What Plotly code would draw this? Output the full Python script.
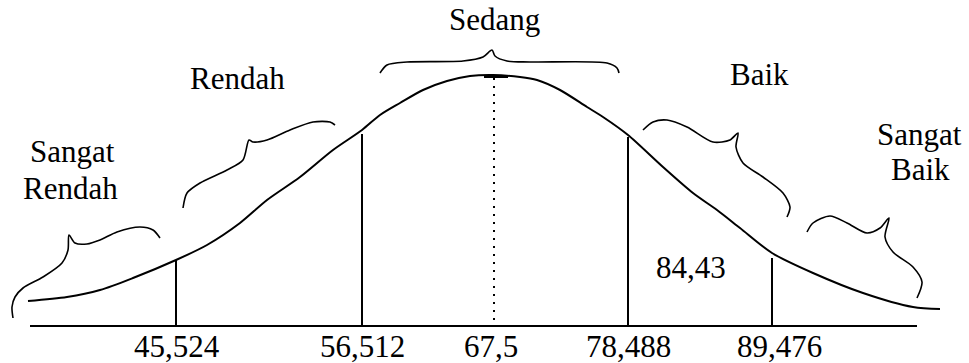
import plotly.graph_objects as go

# ---- data (drawing coordinates: x right, y down) ----
curve_x = [28, 67, 100, 133, 176, 207, 240, 267, 300, 333, 362, 380, 400, 423, 447, 470,
           493, 520, 537, 560, 587, 603, 628, 663, 693, 717, 740, 772, 813, 863, 913, 940]
curve_y = [301, 297, 290, 278, 260, 245, 223, 200, 177, 150, 130, 115, 103, 90, 81, 76,
           75, 77, 80, 90, 107, 117, 135, 167, 193, 210, 228, 253, 273, 293, 307, 309]

cutoff_labels = ["45,524", "56,512", "67,5", "78,488", "89,476"]
cutoff_x = [176, 362, 494, 628, 772]
cutoff_top = [260, 134, 78, 137, 258]
label_x = [177, 362, 491, 628, 779]

baseline_y = 326
axis_x = [30, 917]

mean_label = "67,5"
mid_value_label = "84,43"

categories = ["Sangat\nRendah", "Rendah", "Sedang", "Baik", "Sangat\nBaik"]

# hand-drawn braces (drawing coordinates)
brace_sr_x = [13, 12, 15, 23, 43, 62, 68, 69, 75, 87, 100, 117, 140, 153, 160]
brace_sr_y = [318, 307, 297, 288, 277, 263, 250, 235, 243, 244, 240, 232, 227, 230, 238]
brace_r_x = [183, 187, 200, 227, 243, 249, 253, 267, 290, 313, 330, 335]
brace_r_y = [208, 193, 183, 170, 160, 140, 142, 140, 130, 122, 122, 125]
brace_s_x = [380, 387, 407, 463, 483, 492, 495, 507, 530, 607, 617, 619]
brace_s_y = [73, 65, 62, 61, 57, 50, 56, 61, 62, 63, 68, 73]
brace_b_x = [643, 653, 667, 687, 713, 730, 738, 736, 743, 763, 783, 790, 787]
brace_b_y = [130, 122, 120, 127, 142, 140, 133, 147, 163, 177, 193, 207, 217]
brace_sb_x = [807, 813, 830, 847, 867, 880, 889, 885, 893, 913, 922, 917]
brace_sb_y = [232, 223, 216, 223, 233, 228, 218, 237, 252, 267, 282, 298]

# ---- figure ----
fig = go.Figure()
black = "black"

fig.add_trace(go.Scatter(x=curve_x, y=curve_y, mode="lines",
                         line=dict(color=black, width=2, shape="spline", smoothing=0.8),
                         hoverinfo="skip"))

# axis baseline
fig.add_trace(go.Scatter(x=axis_x, y=[baseline_y, baseline_y], mode="lines",
                         line=dict(color=black, width=2), hoverinfo="skip"))

# cutoff verticals
for i, (cx, ct) in enumerate(zip(cutoff_x, cutoff_top)):
    if cutoff_labels[i] == mean_label:
        fig.add_trace(go.Scatter(x=[cx, cx], y=[ct, baseline_y], mode="lines",
                                 line=dict(color=black, width=2, dash="2px,6px"),
                                 hoverinfo="skip"))
        fig.add_trace(go.Scatter(x=[cx - 10, cx + 14], y=[ct - 1, ct - 1], mode="lines",
                                 line=dict(color=black, width=2), hoverinfo="skip"))
    else:
        fig.add_trace(go.Scatter(x=[cx, cx], y=[ct, baseline_y], mode="lines",
                                 line=dict(color=black, width=2), hoverinfo="skip"))

for bx, by in [(brace_sr_x, brace_sr_y), (brace_r_x, brace_r_y), (brace_s_x, brace_s_y),
               (brace_b_x, brace_b_y), (brace_sb_x, brace_sb_y)]:
    fig.add_trace(go.Scatter(x=bx, y=by, mode="lines",
                             line=dict(color=black, width=1.6, shape="spline", smoothing=0.8),
                             hoverinfo="skip"))

font = dict(family="Liberation Serif", size=31, color=black)

def ann(text, x, y):
    fig.add_annotation(text=text, x=x, y=y, xref="x", yref="y", showarrow=False,
                       xanchor="center", yanchor="middle", font=font)

for lab, lx in zip(cutoff_labels, label_x):
    ann(lab, lx, 346)

ann(mid_value_label, 691, 267)

cat_pos = [[(72, 151), (70, 188)], [(237, 78)], [(494, 19)], [(759, 74)],
           [(919, 134), (920, 169)]]
for cat, pos in zip(categories, cat_pos):
    for line, (px, py) in zip(cat.split("\n"), pos):
        ann(line, px, py)

fig.update_layout(
    width=969, height=363,
    margin=dict(l=0, r=0, t=0, b=0),
    paper_bgcolor="white", plot_bgcolor="white",
    showlegend=False,
    xaxis=dict(range=[0, 969], visible=False, fixedrange=True),
    yaxis=dict(range=[363, 0], visible=False, fixedrange=True),
)

fig.write_html("out.html", post_script="document.body.style.margin='0';",
               config={"displayModeBar": False})
